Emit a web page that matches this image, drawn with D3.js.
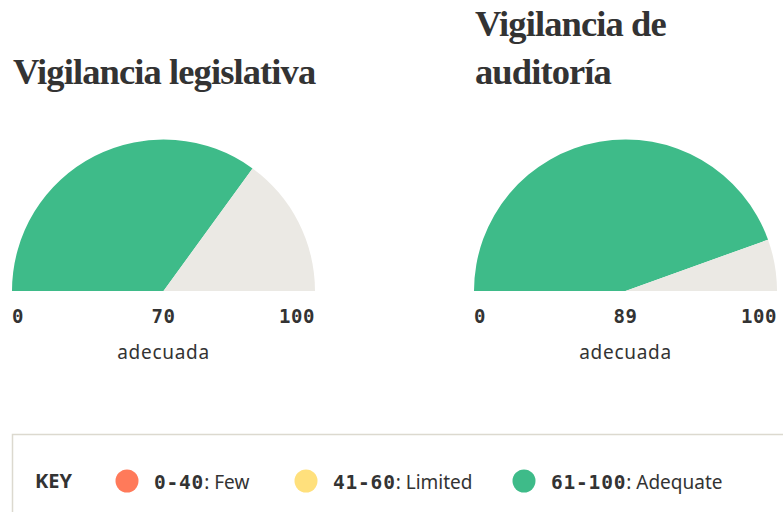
<!DOCTYPE html>
<html>
<head>
<meta charset="utf-8">
<script src="https://cdn.jsdelivr.net/npm/d3@7"></script>
<style>
  html, body { margin: 0; padding: 0; background: #fff; overflow: hidden; }
  .title { font-family: "Liberation Serif", serif; font-weight: bold; fill: #333; }
  .tick { font-family: "DejaVu Sans Mono", monospace; font-weight: bold; fill: #333; }
  .rating { font-family: "Noto Sans", sans-serif; fill: #333; }
  .key-text { font-family: "Noto Sans", sans-serif; fill: #333; }
  .key-range { font-family: "DejaVu Sans Mono", monospace; font-weight: bold; }
</style>
</head>
<body>
<svg id="chart" width="783" height="512"></svg>
<script>
// gauge data
const gaugeTitles = [["Vigilancia legislativa"], ["Vigilancia de", "auditoría"]];
const gaugeScores = [70, 89];
const gaugeRatings = ["adecuada", "adecuada"];
const scoreMax = 100;

// key data
const keyRanges = ["0-40", "41-60", "61-100"];
const keyLabels = ["Few", "Limited", "Adequate"];
const keyColors = ["#ff7a5a", "#ffe07c", "#3ebb89"];

const W = 783, H = 512;
const svg = d3.select("#chart");
const green = "#3ebb89", grey = "#ebe9e4";

const radius = 151.5;
const baseY = 291;
const centers = [163.5, 625.5];

const pie = d3.pie().sort(null).startAngle(-Math.PI / 2).endAngle(Math.PI / 2);
const arc = d3.arc().innerRadius(0).outerRadius(radius);

gaugeScores.forEach((score, i) => {
    const cx = centers[i];
    const g = svg.append("g");

    // title, last line sits on the same baseline for both gauges
    const lines = gaugeTitles[i];
    g.selectAll("text.title").data(lines).join("text")
        .attr("class", "title")
        .attr("x", cx - radius + 1)
        .attr("y", (d, j) => 84 - (lines.length - 1 - j) * 48)
        .attr("font-size", 36.5)
        .attr("letter-spacing", -0.9)
        .text(d => d);

    g.append("g").attr("transform", `translate(${cx},${baseY})`)
        .selectAll("path").data(pie([score, scoreMax - score])).join("path")
        .attr("d", arc)
        .attr("fill", (d, j) => j === 0 ? green : grey);

    const x = d3.scalePoint().domain(["min", "value", "max"]).range([cx - radius, cx + radius]);
    const ticks = [["min", 0, "start"], ["value", score, "middle"], ["max", scoreMax, "end"]];
    g.selectAll("text.tick").data(ticks).join("text")
        .attr("class", "tick")
        .attr("x", d => x(d[0]))
        .attr("y", 323)
        .attr("font-size", 19)
        .attr("letter-spacing", 0.6)
        .attr("text-anchor", d => d[2])
        .text(d => d[1]);

    g.append("text").attr("class", "rating")
        .attr("x", x("value")).attr("y", 359)
        .attr("font-size", 19)
        .attr("letter-spacing", 0.7)
        .attr("text-anchor", "middle")
        .text(gaugeRatings[i]);
});

// key box
svg.append("path")
    .attr("d", `M12.5,${H} V434.5 H${W}`)
    .attr("fill", "none").attr("stroke", "#dcd9cf").attr("stroke-width", 1.5);

svg.append("text").attr("class", "key-text")
    .attr("x", 35).attr("y", 488)
    .attr("font-size", 20).attr("font-weight", "bold")
    .text("KEY");

const keyX = d3.scaleOrdinal().domain(keyRanges).range([127, 306, 524]);
const item = svg.selectAll("g.key").data(keyRanges).join("g")
    .attr("transform", d => `translate(${keyX(d)},481)`);
item.append("circle").attr("r", 11.5).attr("fill", (d, i) => keyColors[i]);
const label = item.append("text").attr("class", "key-text")
    .attr("x", 27).attr("y", 7.5).attr("font-size", 19);
label.append("tspan").attr("class", "key-range").attr("font-size", 19.5).attr("letter-spacing", 0.8).text(d => d);
label.append("tspan").text((d, i) => ": " + keyLabels[i]);
</script>
</body>
</html>
